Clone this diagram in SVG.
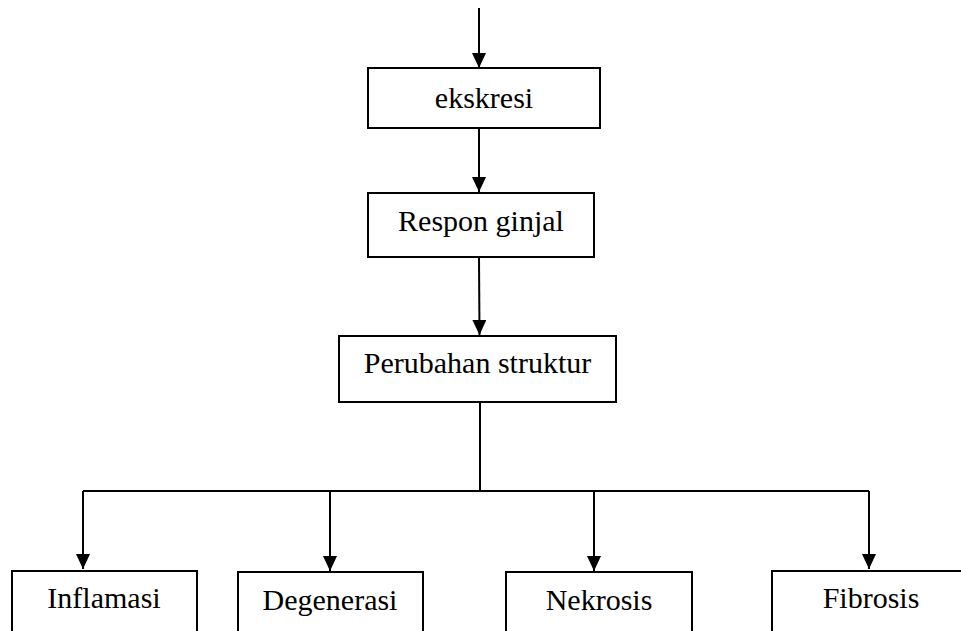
<svg xmlns="http://www.w3.org/2000/svg" width="961" height="631" viewBox="0 0 961 631">
<defs>
<marker id="arr" markerUnits="userSpaceOnUse" markerWidth="15" markerHeight="14" refX="15" refY="7" orient="auto">
<path d="M0,0 L15,7 L0,14 z" fill="#000"/>
</marker>
<style>
.box{fill:#fff;stroke:#000;stroke-width:2}
.lbl{font-family:"Liberation Serif","Times New Roman",serif;font-size:30px;fill:#000;text-anchor:middle}
.ln{fill:none;stroke:#000;stroke-width:2}
</style>
</defs>
<rect width="961" height="631" fill="#fff"/>
<g id="connectors">
<path class="ln" d="M479,8 L479,68" marker-end="url(#arr)"/>
<path class="ln" d="M479,128 L479,192" marker-end="url(#arr)"/>
<path class="ln" d="M479,257 L479.5,335" marker-end="url(#arr)"/>
<path class="ln" d="M480,402 L480,491"/>
<path class="ln" d="M83,491 L869,491"/>
<path class="ln" d="M83,491 L83,569" marker-end="url(#arr)"/>
<path class="ln" d="M330,491 L330,571" marker-end="url(#arr)"/>
<path class="ln" d="M594,491 L594,571" marker-end="url(#arr)"/>
<path class="ln" d="M869,491 L869,569" marker-end="url(#arr)"/>
</g>
<g id="ekskresi">
<rect class="box" x="368" y="68" width="232" height="60"/>
<text class="lbl" x="484" y="108">ekskresi</text>
</g>
<g id="respon">
<rect class="box" x="368" y="193" width="226" height="64"/>
<text class="lbl" x="481" y="231">Respon ginjal</text>
</g>
<g id="perubahan">
<rect class="box" x="339" y="336" width="277" height="66"/>
<text class="lbl" x="477.5" y="373">Perubahan struktur</text>
</g>
<g id="inflamasi">
<rect class="box" x="12" y="571" width="185" height="80"/>
<text class="lbl" x="104" y="608">Inflamasi</text>
</g>
<g id="degenerasi">
<rect class="box" x="238" y="572" width="185" height="80"/>
<text class="lbl" x="330" y="610">Degenerasi</text>
</g>
<g id="nekrosis">
<rect class="box" x="506" y="572" width="186" height="80"/>
<text class="lbl" x="599" y="610">Nekrosis</text>
</g>
<g id="fibrosis">
<rect class="box" x="772" y="571" width="200" height="80"/>
<text class="lbl" x="871" y="608">Fibrosis</text>
</g>
</svg>
